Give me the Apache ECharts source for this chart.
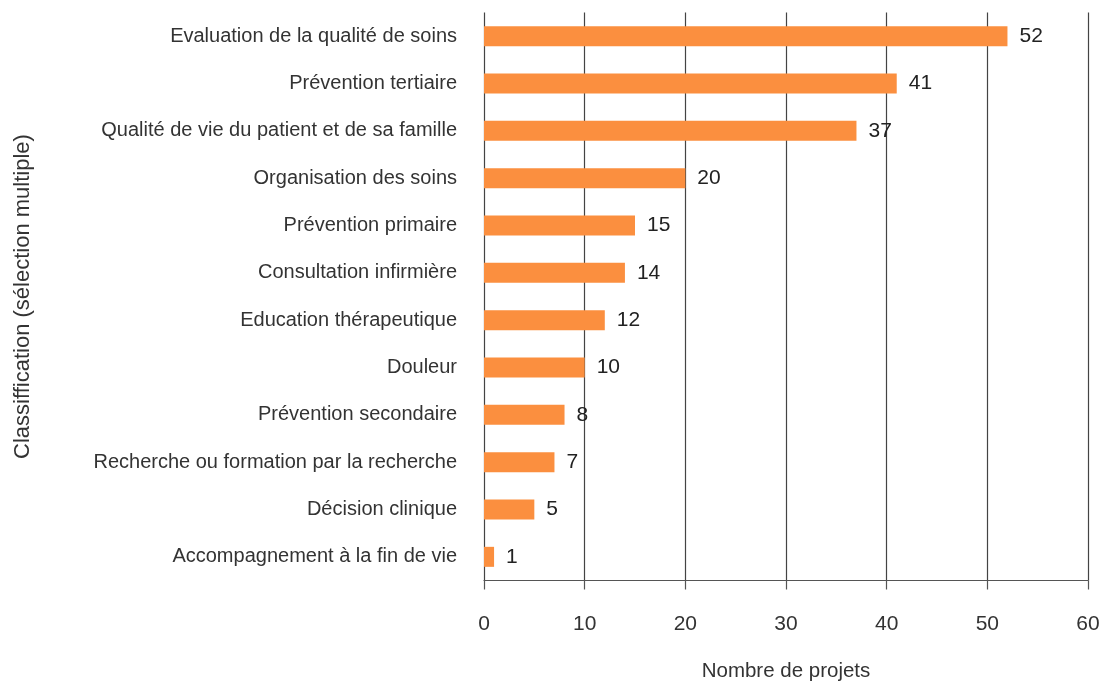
<!DOCTYPE html>
<html><head><meta charset="utf-8">
<script src="https://cdn.jsdelivr.net/npm/echarts@6/dist/echarts.min.js"></script>
<style>html,body{margin:0;padding:0;background:#fff}#c{width:1100px;height:681px}</style>
</head><body><div id="c"></div>
<script>
const categories = ["Evaluation de la qualité de soins","Prévention tertiaire","Qualité de vie du patient et de sa famille","Organisation des soins","Prévention primaire","Consultation infirmière","Education thérapeutique","Douleur","Prévention secondaire","Recherche ou formation par la recherche","Décision clinique","Accompagnement à la fin de vie"];
const values = [52,41,37,20,15,14,12,10,8,7,5,1];
const xTicks = [0,10,20,30,40,50,60];
const font = "Liberation Sans, Arial, sans-serif";
const chart = echarts.init(document.getElementById('c'));
chart.setOption({
  animation:false,
  textStyle:{fontFamily:font},
  grid:{left:484,top:12.5,width:604,height:568,outerBoundsMode:'none',containLabel:false},
  xAxis:{type:'value',min:xTicks[0],max:xTicks[xTicks.length-1],interval:10,
    name:'Nombre de projets',nameLocation:'middle',nameGap:80,
    nameTextStyle:{fontSize:20.5,color:'#333',fontFamily:font},
    axisLine:{show:true,lineStyle:{color:'#555',width:1.2}},
    axisTick:{show:true,length:9,lineStyle:{color:'#555',width:1.2}},
    axisLabel:{fontSize:21,color:'#333',margin:33,fontFamily:font},
    splitLine:{show:true,lineStyle:{color:'#444',width:1.2}}},
  yAxis:{type:'category',data:categories,inverse:true,
    name:'Classiffication (sélection multiple)',nameLocation:'middle',nameGap:450,nameRotate:90,
    nameTextStyle:{fontSize:22,color:'#333',fontFamily:font},
    axisLine:{show:false},axisTick:{show:false},
    axisLabel:{fontSize:20,color:'#333',margin:27,fontFamily:font}},
  series:[{type:'bar',data:values,barWidth:20,z:1,
    itemStyle:{color:'#FB8F3F'},
    label:{show:true,position:'right',distance:12,fontSize:21,color:'#222',fontFamily:font}}]
});
</script></body></html>
